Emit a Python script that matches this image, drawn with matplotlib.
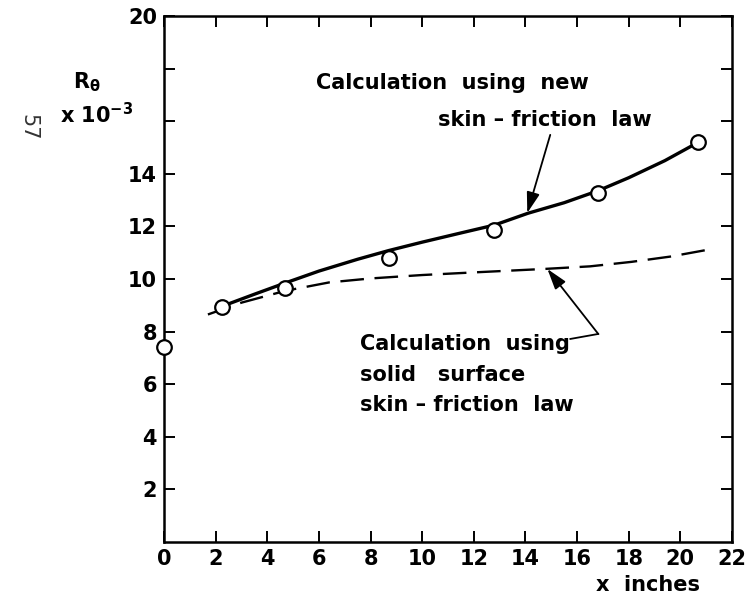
import numpy as np
import matplotlib.pyplot as plt

plt.rcParams['font.family'] = ['DejaVu Sans']
plt.rcParams['mathtext.default'] = 'regular'

# measured points
x_meas = [0.0, 2.25, 4.7, 8.7, 12.8, 16.8, 20.7]
r_meas = [7.4, 8.95, 9.65, 10.78, 11.85, 13.28, 15.2]

# calculation, new skin-friction law
x_new = [2.3, 3.5, 4.7, 6.0, 7.5, 8.7, 10.0, 11.5, 12.8, 14.1, 15.5, 16.8, 18.0, 19.4, 20.7]
r_new = [8.98, 9.42, 9.85, 10.3, 10.75, 11.08, 11.4, 11.75, 12.05, 12.5, 12.9, 13.35, 13.85, 14.5, 15.2]

# calculation, solid surface skin-friction law
x_solid = [1.7, 3.0, 4.7, 6.4, 8.0, 10.0, 12.0, 14.7, 16.5, 18.1, 19.6, 21.0]
r_solid = [8.65, 9.1, 9.55, 9.87, 10.02, 10.15, 10.25, 10.38, 10.48, 10.65, 10.85, 11.1]

xticks = list(range(0, 23, 2))
yticks = list(range(2, 21, 2))
ytick_labels = ['2', '4', '6', '8', '10', '12', '14', '', '', '20']

fig = plt.figure(figsize=(7.51, 6.03), dpi=100)
ax = fig.add_axes([0.2184, 0.1012, 0.7563, 0.8723])

ax.plot(x_new, r_new, color='black', lw=2.4, solid_capstyle='round', zorder=2)
ax.plot(x_solid, r_solid, color='black', lw=1.7, linestyle=(0, (10, 4.5)), zorder=2)
ax.plot(x_meas, r_meas, 'o', ms=10.5, mfc='white', mec='black', mew=1.6,
        zorder=3, clip_on=False)

ax.set_xlim(0, 22)
ax.set_ylim(0, 20)
ax.set_xticks(xticks)
ax.set_xticklabels([str(v) for v in xticks])
ax.set_yticks(yticks)
ax.set_yticklabels(ytick_labels)
ax.tick_params(direction='in', length=8, width=1.4, labelsize=15,
               top=True, right=True, pad=5)
for lab in ax.get_xticklabels() + ax.get_yticklabels():
    lab.set_fontweight('bold')
for sp in ax.spines.values():
    sp.set_linewidth(1.8)

txt = dict(fontsize=15, fontweight='bold', color='black')
arrow = dict(arrowstyle='-|>,head_length=0.7,head_width=0.22', color='black',
             lw=1.3, mutation_scale=18, shrinkA=0, shrinkB=0)

# upper annotation
ax.text(5.9, 17.45, 'Calculation  using  new', va='center', ha='left', **txt)
ax.text(10.6, 16.05, 'skin \u2013 friction  law', va='center', ha='left', **txt)
ax.annotate('', xy=(14.07, 12.51), xytext=(14.96, 15.48), arrowprops=arrow)

# lower annotation
ax.text(7.6, 7.3, 'Calculation  using', va='baseline', ha='left', **txt)
ax.text(7.6, 6.12, 'solid   surface', va='baseline', ha='left', **txt)
ax.text(7.6, 4.98, 'skin \u2013 friction  law', va='baseline', ha='left', **txt)
ax.plot([15.74, 16.82], [7.72, 7.91], color='black', lw=1.3)
ax.annotate('', xy=(14.85, 10.38), xytext=(16.82, 7.91), arrowprops=arrow)

# axis labels
fig.text(73 / 751, 1 - 82 / 603, r'R$_\theta$', fontsize=15, fontweight='bold',
         ha='left', va='center')
fig.text(60 / 751, 1 - 115 / 603, r'x 10$^{-3}$', fontsize=15, fontweight='bold',
         ha='left', va='center')
fig.text(648 / 751, 1 - 585 / 603, 'x  inches', fontsize=15, fontweight='bold',
         ha='center', va='center')
fig.text(28 / 751, 1 - 127 / 603, '57', fontsize=15, rotation=-90,
         ha='center', va='center', color='#333333')

fig.savefig('out.png', dpi=100)
